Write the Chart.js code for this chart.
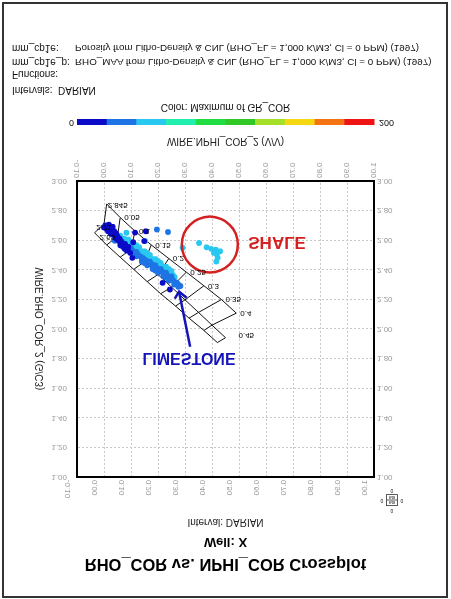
<!DOCTYPE html>
<html>
<head>
<meta charset="utf-8">
<title>RHO_COR vs. NPHI_COR Crossplot</title>
<script src="https://cdn.jsdelivr.net/npm/chart.js@4.4.1/dist/chart.umd.min.js"></script>
<style>
  html, body { margin: 0; padding: 0; background: #fff; }
  /* the sheet is printed mirrored top to bottom */
  #sheet { position: relative; width: 451px; height: 599px; overflow: hidden;
           transform: scaleY(-1); font-family: "Liberation Sans", Arial, sans-serif; color: #111; }
  #plot { position: absolute; left: 0; top: 0; }
  #frame { position: absolute; left: 2px; top: 1px; width: 442px; height: 592px; border: 2px solid #333; }
  .note { position: absolute; font-size: 10px; line-height: 12px; white-space: nowrap; }
  .long { font-size: 9.8px; }
</style>
</head>
<body>
<div id="sheet">
  <canvas id="plot" width="451" height="599"></canvas>
  <div id="frame"></div>
  <div class="note" style="left:0;width:451px;text-align:center;top:486px">Color: Maximum of GR_COR</div>
  <div class="note" style="left:12px;top:503px">Intervals:</div>
  <div class="note" style="left:58px;top:503px">DARIAN</div>
  <div class="note" style="left:12px;top:519px">Functions:</div>
  <div class="note" style="left:12px;top:531px">mm_cp1e_p:</div>
  <div class="note long" style="left:75px;top:531px">RHO_MAA from Litho-Density &amp; CNL (RHO_FL = 1,000 K/M3, Cl = 0 PPM) (1997)</div>
  <div class="note" style="left:12px;top:545px">mm_cp1e:</div>
  <div class="note long" style="left:75px;top:545px">Porosity from Litho-Density &amp; CNL (RHO_FL = 1,000 K/M3, Cl = 0 PPM) (1997)</div>
</div>

<script>
// ---------- data (NPHI, RHO) ----------
const nphiRange = [-0.10, 1.00];
const rhoRange = [1.00, 3.00];

// points coloured by max GR_COR
const grDark = [ // 0 - 20
  [0.005,2.700],[0.012,2.690],[0.020,2.695],[0.010,2.675],[0.022,2.670],[0.030,2.680],
  [0.028,2.655],[0.038,2.660],[0.035,2.640],[0.045,2.645],[0.050,2.625],[0.042,2.615],
  [0.058,2.610],[0.055,2.595],[0.065,2.590],[0.070,2.575],[0.062,2.565],[0.080,2.560],
  [0.075,2.545],[0.088,2.540],
  [0.000,2.685],[0.015,2.660],[0.025,2.645],[0.040,2.630],[0.048,2.605],[0.060,2.585],
  [0.068,2.560],[0.078,2.575],[0.090,2.555],[0.085,2.530],[0.018,2.705],[0.032,2.690],
  [0.115,2.651],[0.155,2.660],[0.108,2.586],[0.149,2.593],[0.097,2.514],[0.105,2.480],
  [0.217,2.311],[0.244,2.266]
];
const grBlue = [ // 20 - 40
  [0.030,2.640],[0.045,2.620],[0.055,2.600],[0.065,2.585],[0.075,2.570],[0.085,2.555],
  [0.095,2.540],[0.105,2.530],[0.115,2.515],[0.125,2.505],[0.135,2.490],[0.145,2.478],
  [0.155,2.465],[0.165,2.450],[0.175,2.440],[0.185,2.425],[0.195,2.412],[0.205,2.400],
  [0.215,2.388],[0.225,2.375],[0.235,2.360],[0.245,2.345],[0.255,2.330],[0.265,2.315],
  [0.275,2.300],[0.283,2.290],
  [0.140,2.465],[0.160,2.440],[0.180,2.420],[0.200,2.395],[0.220,2.368],[0.240,2.340],
  [0.260,2.318],[0.270,2.312],[0.250,2.355],[0.230,2.380],[0.210,2.405],[0.190,2.430],
  [0.170,2.455],[0.120,2.520],[0.100,2.545],
  [0.040,2.595],[0.060,2.565],[0.080,2.535],[0.100,2.515],[0.120,2.490],[0.140,2.455],
  [0.160,2.430],[0.180,2.405],[0.200,2.380],[0.220,2.355],[0.240,2.325],[0.260,2.300],
  [0.275,2.285],[0.150,2.445],[0.190,2.395],[0.230,2.345],
  [0.196,2.672],[0.237,2.655]
];
const grCyan = [ // 40 - 60
  [0.060,2.630],[0.075,2.610],[0.085,2.595],[0.095,2.585],[0.105,2.570],[0.115,2.555],
  [0.125,2.540],[0.135,2.528],[0.145,2.515],[0.155,2.500],[0.165,2.488],[0.175,2.475],
  [0.185,2.462],[0.195,2.450],[0.205,2.437],[0.215,2.425],[0.225,2.410],[0.235,2.395],
  [0.245,2.380],[0.255,2.365],[0.262,2.350],
  [0.130,2.520],[0.150,2.492],[0.170,2.468],[0.190,2.445],[0.210,2.420],[0.230,2.398],
  [0.250,2.370],[0.140,2.505],[0.160,2.480],[0.180,2.455],[0.200,2.428],[0.220,2.405],
  [0.240,2.385],
  [0.090,2.605],[0.110,2.578],[0.130,2.552],[0.150,2.525],[0.170,2.500],[0.190,2.472],
  [0.210,2.446],[0.230,2.420],[0.250,2.392],[0.120,2.565],[0.160,2.512],[0.200,2.460],
  [0.240,2.405],
  [0.153,2.593],[0.083,2.650],[0.291,2.548],
  // shale group
  [0.352,2.581],[0.380,2.552],[0.397,2.541],[0.414,2.536],[0.430,2.525],[0.407,2.514],
  [0.418,2.503],[0.421,2.480],[0.416,2.455]
];

// mm_cp1e chart: RHO_MAA lines and iso-porosity lines
const porosity = [0, 0.05, 0.10, 0.15, 0.20, 0.25, 0.30, 0.35, 0.40, 0.45];
const porosityLabels = ['0', '0.05', '0.1', '0.15', '0.2', '0.25', '0.3', '0.35', '0.4', '0.45'];
const matrixLabels = ['2.65', '2.71', '2.845'];
const nphiSand = [-0.035, 0.010, 0.060, 0.110, 0.160, 0.210, 0.265, 0.315, 0.370, 0.420];
const rhoSand  = [2.650, 2.568, 2.485, 2.403, 2.320, 2.238, 2.155, 2.073, 1.990, 1.908];
const nphiLime = [0.000, 0.050, 0.100, 0.150, 0.200, 0.250, 0.300, 0.350, 0.400, 0.450];
const rhoLime  = [2.710, 2.625, 2.539, 2.454, 2.368, 2.283, 2.197, 2.112, 2.026, 1.941];
const nphiDolo = [0.010, 0.060, 0.115, 0.175, 0.240, 0.305, 0.370, 0.435, 0.490];
const rhoDolo  = [2.845, 2.753, 2.661, 2.568, 2.476, 2.384, 2.292, 2.199, 2.107];

// colour key for GR_COR
const colorScale = ['#0a0ac8', '#1e74e4', '#28c8f0', '#22eeb0', '#22dc44', '#30c824', '#a4e02a', '#f4d812', '#f47414', '#ee1414'];
const colorRange = [0, 200];

// hand annotations
const shaleCircle = [[0.392, 2.570]];
const shaleText = [0.641, 2.590];
const limeText = [0.315, 1.809];
const arrowShaft = [[0.319, 1.880], [0.278, 2.252]];
const arrowHead = [[0.262, 2.205], [0.278, 2.252], [0.306, 2.211]];

// ---------- chart ----------
const pts = a => a.map(p => ({ x: p[0], y: p[1] }));
const pairs = (xs, ys) => xs.map((v, i) => [v, ys[i]]);

Chart.defaults.font.family = '"Liberation Sans", Arial, sans-serif';

const chartLine = { showLine: true, borderColor: '#111', borderWidth: 1, pointRadius: 0, pointHoverRadius: 0, order: 6 };
const dot = 2.9;
const datasets = [];

// scatter points (drawn over the chart lines)
datasets.push({ label: 'GR 40-60', data: pts(grCyan), backgroundColor: colorScale[2], pointRadius: dot, borderWidth: 0, order: 3 });
datasets.push({ label: 'GR 20-40', data: pts(grBlue), backgroundColor: colorScale[1], pointRadius: dot, borderWidth: 0, order: 2 });
datasets.push({ label: 'GR 0-20', data: pts(grDark), backgroundColor: colorScale[0], pointRadius: dot, borderWidth: 0, order: 1 });

datasets.push({ ...chartLine, label: 'RHO_MAA 2.65', data: pts(pairs(nphiSand, rhoSand)) });
datasets.push({ ...chartLine, label: 'RHO_MAA 2.71', data: pts(pairs(nphiLime, rhoLime)) });
datasets.push({ ...chartLine, label: 'RHO_MAA 2.845', data: pts(pairs(nphiDolo, rhoDolo)) });
porosity.forEach((p, i) => {
  const row = [[nphiSand[i], rhoSand[i]], [nphiLime[i], rhoLime[i]]];
  if (i < nphiDolo.length) row.push([nphiDolo[i], rhoDolo[i]]);
  datasets.push({ ...chartLine, label: 'PHI ' + p, data: pts(row) });
});

datasets.push({ label: 'shale', data: pts(shaleCircle), pointRadius: 28, pointHoverRadius: 28,
  backgroundColor: 'rgba(0,0,0,0)', borderColor: '#d42020', borderWidth: 2.5, order: 0 });
datasets.push({ label: 'arrow', data: pts(arrowShaft), showLine: true, borderColor: '#1414b8', borderWidth: 2.5, pointRadius: 0, order: 0 });
datasets.push({ label: 'arrow head', data: pts(arrowHead), showLine: true, borderColor: '#1414b8', borderWidth: 2.5, pointRadius: 0, order: 0 });

// labels on the chart lines, annotation texts, colour bar
const overlay = {
  id: 'overlay',
  afterDatasetsDraw(chart) {
    const { ctx, scales: { x, y } } = chart;
    const put = (txt, nx, ry, dx, dy, align) => {
      ctx.textAlign = align;
      ctx.fillText(txt, x.getPixelForValue(nx) + dx, y.getPixelForValue(ry) + dy);
    };
    ctx.save();
    ctx.font = '8px "Liberation Sans", Arial, sans-serif';
    ctx.fillStyle = '#000';
    ctx.textBaseline = 'middle';
    put(matrixLabels[0], nphiSand[0], rhoSand[0], 5, -4, 'left');
    put(matrixLabels[1], nphiLime[0], rhoLime[0], 0, -3, 'center');
    put(matrixLabels[2], nphiDolo[0], rhoDolo[0], 1, -1, 'left');
    for (let i = 1; i < nphiDolo.length; i++) put(porosityLabels[i], nphiDolo[i], rhoDolo[i], 4, 0, 'left');
    const last = porosity.length - 1;
    put(porosityLabels[last], nphiLime[last], rhoLime[last], 13, 2, 'left');

    ctx.font = 'bold 17px "Liberation Sans", Arial, sans-serif';
    ctx.fillStyle = '#d42020';
    put('SHALE', shaleText[0], shaleText[1], 0, 0, 'center');
    ctx.font = 'bold 16px "Liberation Sans", Arial, sans-serif';
    ctx.fillStyle = '#1414b8';
    put('LIMESTONE', limeText[0], limeText[1], 0, 0, 'center');
    ctx.restore();
  },
  afterDraw(chart) {
    const { ctx, chartArea } = chart;
    const top = 474, h = 6;
    const w = (chartArea.right - chartArea.left) / colorScale.length;
    ctx.save();
    colorScale.forEach((c, i) => {
      ctx.fillStyle = c;
      ctx.fillRect(chartArea.left + i * w, top, w + 0.5, h);
    });
    ctx.font = '9px "Liberation Sans", Arial, sans-serif';
    ctx.fillStyle = '#111';
    ctx.textBaseline = 'middle';
    ctx.textAlign = 'right';
    ctx.fillText(String(colorRange[0]), chartArea.left - 3, top + h / 2);
    ctx.textAlign = 'left';
    ctx.fillText(String(colorRange[1]), chartArea.right + 5, top + h / 2);

    // little page key in the corner
    ctx.strokeStyle = '#333';
    ctx.lineWidth = 0.8;
    ctx.strokeRect(386.5, 93.5, 11, 11);
    ctx.beginPath(); ctx.moveTo(386.5, 99); ctx.lineTo(397.5, 99); ctx.stroke();
    ctx.font = '5px "Liberation Sans", Arial, sans-serif';
    ctx.textAlign = 'center';
    ctx.fillText('0', 392, 89);
    ctx.fillText('0', 392, 109);
    ctx.fillText('0', 382, 99);
    ctx.fillText('0', 402, 99);
    ctx.font = '4px "Liberation Sans", Arial, sans-serif';
    ctx.fillText('848', 392, 96.5);
    ctx.fillText('848', 392, 102);
    ctx.restore();
  }
};

const tickFont = { size: 8 };
const fmt = v => Number(v).toFixed(2);
const gridStyle = { color: '#c8c8c8', drawTicks: false };

new Chart(document.getElementById('plot'), {
  type: 'scatter',
  data: { datasets },
  options: {
    responsive: false,
    animation: false,
    events: [],
    layout: { padding: { top: 0, left: 0, right: 0, bottom: 120 } },
    plugins: {
      legend: { display: false },
      tooltip: { enabled: false },
      title: { display: true, text: 'RHO_COR vs. NPHI_COR Crossplot', color: '#000',
               font: { size: 16.5, weight: 'bold' }, padding: { top: 26, bottom: 0 } },
      subtitle: { display: true, text: 'Well: X', color: '#000',
                  font: { size: 13, weight: 'bold' }, padding: { top: 4, bottom: 0 } }
    },
    scales: {
      x: {
        type: 'linear', position: 'bottom', min: nphiRange[0], max: nphiRange[1],
        ticks: { stepSize: 0.1, autoSkip: false, minRotation: 90, maxRotation: 90, padding: 3, color: '#999', font: tickFont, callback: fmt },
        grid: gridStyle,
        border: { display: true, color: '#000', width: 2, dash: [2, 2] },
        title: { display: true, text: 'WIRE.NPHI_COR_2 (V/V)', color: '#222', font: { size: 10 }, padding: { top: 0, bottom: 15 } },
        afterFit: s => { s.height = 61; }
      },
      x2: {
        type: 'linear', position: 'top', min: nphiRange[0], max: nphiRange[1],
        ticks: { stepSize: 0.1, autoSkip: false, minRotation: 90, maxRotation: 90, padding: 3, color: '#999', font: tickFont, callback: fmt },
        grid: { display: false, drawTicks: false },
        border: { display: true, color: '#000', width: 2 },
        title: { display: true, text: 'Interval: DARIAN', color: '#222', font: { size: 10 }, padding: { top: 6, bottom: 0 } },
        afterFit: s => { s.height = 56.7; }
      },
      y: {
        type: 'linear', position: 'left', reverse: true, min: rhoRange[0], max: rhoRange[1],
        ticks: { stepSize: 0.2, padding: 10, color: '#999', font: tickFont, callback: fmt },
        grid: gridStyle,
        border: { display: true, color: '#000', width: 2, dash: [2, 2] },
        title: { display: true, text: 'WIRE.RHO_COR_2 (G/C3)', color: '#222', font: { size: 10 }, padding: { top: 34, bottom: 0 } },
        afterFit: s => { s.width = 77; }
      },
      y2: {
        type: 'linear', position: 'right', reverse: true, min: rhoRange[0], max: rhoRange[1],
        ticks: { stepSize: 0.2, padding: 3, color: '#999', font: tickFont, callback: fmt },
        grid: { display: false, drawTicks: false },
        border: { display: true, color: '#000', width: 2 },
        afterFit: s => { s.width = 77; }
      }
    }
  },
  plugins: [overlay]
});
</script>
</body>
</html>
